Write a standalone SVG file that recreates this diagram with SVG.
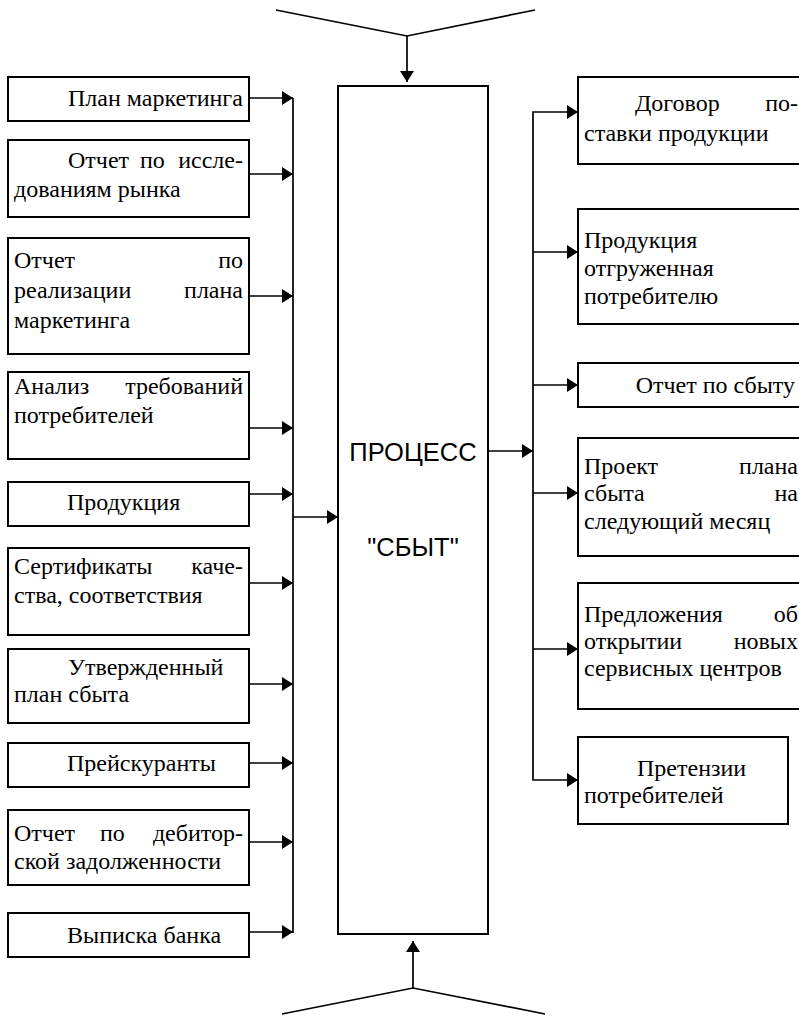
<svg xmlns="http://www.w3.org/2000/svg" width="799" height="1016" viewBox="0 0 799 1016">
  <style>
    .box { fill: #fff; stroke: #000; stroke-width: 2; }
    .ln { fill: none; stroke: #000; stroke-width: 1.7; }
    .arr { fill: none; stroke: #000; stroke-width: 1.7; marker-end: url(#head); }
    .t { font-family: "Liberation Serif", "Times New Roman", serif; font-size: 24px; fill: #000; }
    .e { text-anchor: end; }
    .c { font-family: "Liberation Sans", Arial, sans-serif; font-size: 25.5px; fill: #000; text-anchor: middle; }
  </style>
  <defs>
    <marker id="head" viewBox="0 0 11 14" refX="11" refY="7" markerWidth="11" markerHeight="14" markerUnits="userSpaceOnUse" orient="auto">
      <path d="M0,0 L11,7 L0,14 z" fill="#000"/>
    </marker>
  </defs>
  <rect width="799" height="1016" fill="#fff"/>

  <!-- connectors -->
  <g id="connectors">
    <!-- control from above -->
    <polyline class="ln" points="276,10 407,36 535,10"/>
    <line class="arr" x1="407" y1="36" x2="407" y2="82"/>
    <!-- mechanism from below -->
    <polyline class="ln" points="282,1014 413,988 545,1014"/>
    <line class="arr" x1="413" y1="988" x2="413" y2="941"/>
    <!-- input bus -->
    <line class="ln" x1="293" y1="98" x2="293" y2="933"/>
    <line class="arr" x1="249" y1="98" x2="293" y2="98"/>
    <line class="arr" x1="249" y1="174" x2="293" y2="174"/>
    <line class="arr" x1="249" y1="296" x2="293" y2="296"/>
    <line class="arr" x1="249" y1="428" x2="293" y2="428"/>
    <line class="arr" x1="249" y1="494" x2="293" y2="494"/>
    <line class="arr" x1="249" y1="583" x2="293" y2="583"/>
    <line class="arr" x1="249" y1="684" x2="293" y2="684"/>
    <line class="arr" x1="249" y1="763" x2="293" y2="763"/>
    <line class="arr" x1="249" y1="842" x2="293" y2="842"/>
    <line class="arr" x1="249" y1="932" x2="293" y2="932"/>
    <line class="arr" x1="293" y1="517" x2="338" y2="517"/>
    <!-- output bus -->
    <line class="arr" x1="488" y1="451" x2="533" y2="451"/>
    <polyline class="arr" points="533,252 533,112 578,112"/>
    <line class="arr" x1="533" y1="252" x2="578" y2="252"/>
    <line class="arr" x1="533" y1="385" x2="578" y2="385"/>
    <line class="arr" x1="533" y1="493" x2="578" y2="493"/>
    <line class="arr" x1="533" y1="649" x2="578" y2="649"/>
    <polyline class="arr" points="533,252 533,780 578,780"/>
  </g>

  <!-- central process -->
  <g id="process">
    <rect class="box" x="338" y="86" width="150" height="848"/>
    <text class="c" x="413" y="461">ПРОЦЕСС</text>
    <text class="c" x="413" y="556">"СБЫТ"</text>
  </g>

  <!-- inputs -->
  <g id="in-plan-marketing">
    <rect class="box" x="8" y="77" width="241" height="44"/>
    <text class="t" x="68" y="106">План маркетинга</text>
  </g>
  <g id="in-market-research">
    <rect class="box" x="8" y="140" width="241" height="77"/>
    <text class="t" y="168"><tspan x="68">Отчет</tspan><tspan x="140">по</tspan><tspan x="243" text-anchor="end">иссле-</tspan></text>
    <text class="t" x="14" y="197">дованиям рынка</text>
  </g>
  <g id="in-plan-report">
    <rect class="box" x="8" y="238" width="241" height="116"/>
    <text class="t" y="268"><tspan x="14">Отчет</tspan><tspan x="243" text-anchor="end">по</tspan></text>
    <text class="t" y="298"><tspan x="14">реализации</tspan><tspan x="243" text-anchor="end">плана</tspan></text>
    <text class="t" x="14" y="328">маркетинга</text>
  </g>
  <g id="in-requirements">
    <rect class="box" x="8" y="372" width="241" height="87"/>
    <text class="t" y="394"><tspan x="14">Анализ</tspan><tspan x="243" text-anchor="end">требований</tspan></text>
    <text class="t" x="14" y="423">потребителей</text>
  </g>
  <g id="in-product">
    <rect class="box" x="8" y="482" width="241" height="44"/>
    <text class="t" x="67" y="510">Продукция</text>
  </g>
  <g id="in-certificates">
    <rect class="box" x="8" y="548" width="241" height="87"/>
    <text class="t" y="574"><tspan x="14">Сертификаты</tspan><tspan x="243" text-anchor="end">каче-</tspan></text>
    <text class="t" x="14" y="603">ства, соответствия</text>
  </g>
  <g id="in-approved-plan">
    <rect class="box" x="8" y="649" width="241" height="74"/>
    <text class="t" x="68" y="675">Утвержденный</text>
    <text class="t" x="14" y="702">план сбыта</text>
  </g>
  <g id="in-price-lists">
    <rect class="box" x="8" y="743" width="241" height="44"/>
    <text class="t" x="67" y="771">Прейскуранты</text>
  </g>
  <g id="in-receivables">
    <rect class="box" x="8" y="810" width="241" height="75"/>
    <text class="t" y="841"><tspan x="14">Отчет</tspan><tspan x="100">по</tspan><tspan x="243" text-anchor="end">дебитор-</tspan></text>
    <text class="t" x="14" y="869">ской задолженности</text>
  </g>
  <g id="in-bank-statement">
    <rect class="box" x="8" y="913" width="241" height="44"/>
    <text class="t" x="67" y="943">Выписка банка</text>
  </g>

  <!-- outputs -->
  <g id="out-contract">
    <rect class="box" x="578" y="77" width="230" height="87"/>
    <text class="t" y="111"><tspan x="635">Договор</tspan><tspan x="798" text-anchor="end">по-</tspan></text>
    <text class="t" x="584" y="141">ставки продукции</text>
  </g>
  <g id="out-shipped">
    <rect class="box" x="578" y="209" width="230" height="115"/>
    <text class="t" x="584" y="248">Продукция</text>
    <text class="t" x="584" y="276">отгруженная</text>
    <text class="t" x="584" y="304">потребителю</text>
  </g>
  <g id="out-sales-report">
    <rect class="box" x="578" y="363" width="230" height="44"/>
    <text class="t e" x="795" y="393">Отчет по сбыту</text>
  </g>
  <g id="out-plan-draft">
    <rect class="box" x="578" y="438" width="230" height="118"/>
    <text class="t" y="474"><tspan x="584">Проект</tspan><tspan x="798" text-anchor="end">плана</tspan></text>
    <text class="t" y="501"><tspan x="584">сбыта</tspan><tspan x="798" text-anchor="end">на</tspan></text>
    <text class="t" x="584" y="529">следующий месяц</text>
  </g>
  <g id="out-service-centers">
    <rect class="box" x="578" y="583" width="230" height="126"/>
    <text class="t" y="622"><tspan x="584">Предложения</tspan><tspan x="798" text-anchor="end">об</tspan></text>
    <text class="t" y="649"><tspan x="584">открытии</tspan><tspan x="798" text-anchor="end">новых</tspan></text>
    <text class="t" x="584" y="676">сервисных центров</text>
  </g>
  <g id="out-claims">
    <rect class="box" x="578" y="737" width="210" height="87"/>
    <text class="t" x="637" y="776">Претензии</text>
    <text class="t" x="584" y="803">потребителей</text>
  </g>
</svg>
